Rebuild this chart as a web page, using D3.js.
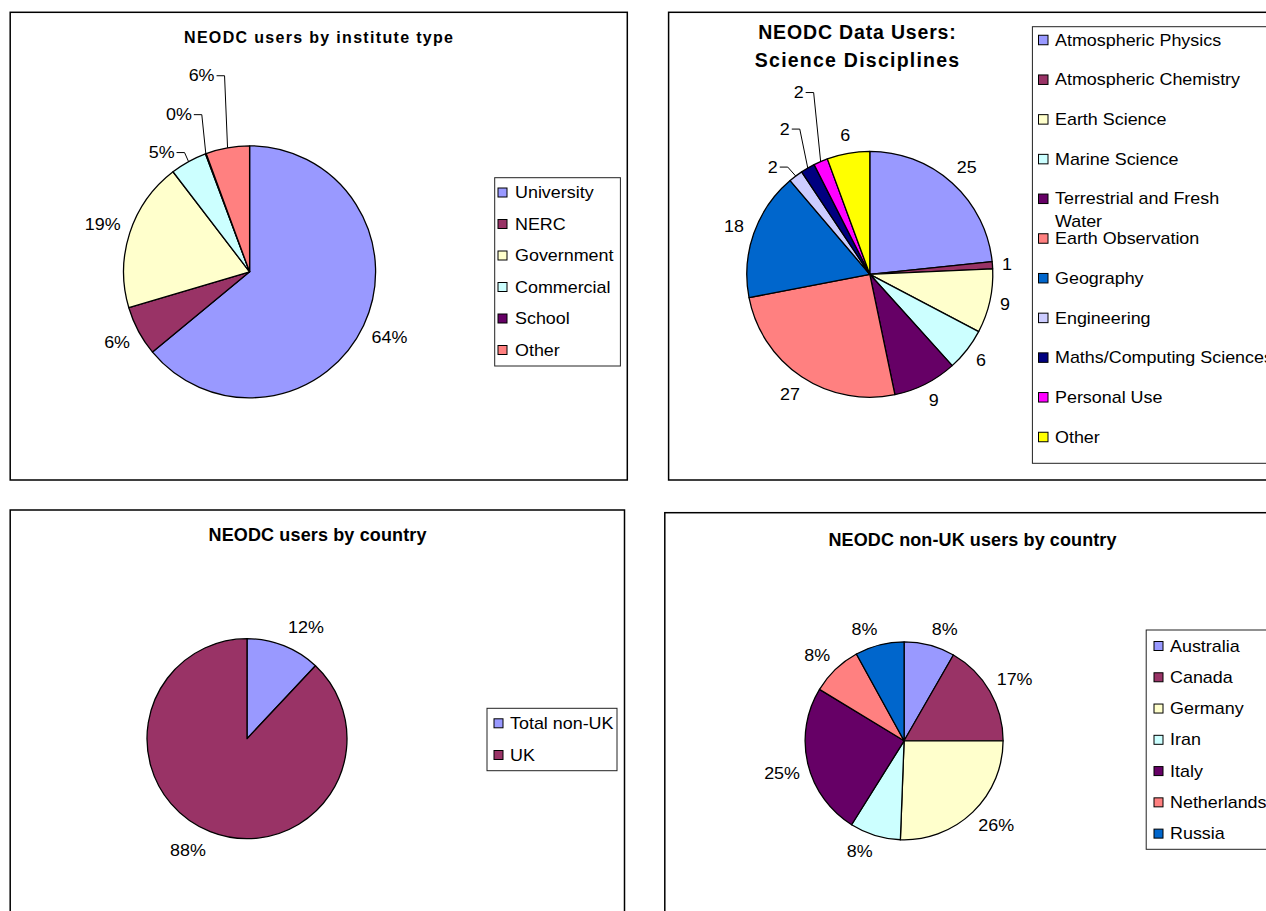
<!DOCTYPE html>
<html>
<head>
<meta charset="utf-8">
<script src="https://cdn.jsdelivr.net/npm/d3@7"></script>
<style>
  body { margin: 0; background: #fff; }
  svg { display: block; }
  text { font-family: "Liberation Sans", Arial, sans-serif; fill: #000; }
</style>
</head>
<body>
<svg id="c" width="1266" height="911"></svg>
<script>
// ---------------- DATA ----------------
const instituteTypes = ["University", "NERC", "Government", "Commercial", "School", "Other"];
const instituteShares = [64.0, 6.4, 19.2, 4.7, 0.1, 5.6];

const disciplines = ["Atmospheric Physics", "Atmospheric Chemistry", "Earth Science", "Marine Science",
  "Terrestrial and Fresh Water", "Earth Observation", "Geography", "Engineering",
  "Maths/Computing Sciences", "Personal Use", "Other"];
const disciplineUsers = [25, 1, 9, 6, 9, 27, 18, 2, 2, 2, 6];

const countryGroups = ["Total non-UK", "UK"];
const countryShares = [12, 88];

const nonUkCountries = ["Australia", "Canada", "Germany", "Iran", "Italy", "Netherlands", "Russia"];
const nonUkShares = [8.3, 16.7, 25.6, 8.3, 24.8, 8.3, 8.0];

// ---------------- STYLE / LAYOUT ----------------
const palette = ["#9999FF", "#993366", "#FFFFCC", "#CCFFFF", "#660066", "#FF8080",
                 "#0066CC", "#CCCCFF", "#000080", "#FF00FF", "#FFFF00"];
const SX = 1.12;           // horizontal stretch of the original's text
const fmtPct = d3.format(".0%");

const panels = [
  { frame: [10.2, 12.3, 617.1, 467.7],
    title: ["NEODC users by institute type"], titleX: 318.5, titleY: [43.3], titleSize: 16, titleLen: [269],
    cats: instituteTypes, vals: instituteShares, colors: palette.slice(0, 6),
    cx: 249.6, cy: 271.8, r: 126, fmt: "pct", mode: "tangent", pad: 9,
    leaders: { 3: [-4, -9], 4: [-4, -39], 5: [-3, -72] },
    legend: { box: [494.7, 177.7, 125.7, 188.3], swX: 498, sw: 9, txX: 515, y0: 192.5, dy: 31.5 } },
  { frame: [668.6, 12.3, 640, 467.7],
    title: ["NEODC Data Users:", "Science Disciplines"], titleX: 857, titleY: [39.3, 66.7], titleSize: 19.5, titleLen: [197.6, 204.4],
    cats: disciplines, vals: disciplineUsers, colors: palette.slice(0, 11),
    cx: 869.8, cy: 274.3, r: 123, fmt: "value", mode: "tangent", pad: 9,
    leaders: { 7: [-8, -9], 8: [-8, -39], 9: [-7, -69] },
    legendLines: { "Terrestrial and Fresh Water": ["Terrestrial and Fresh", "Water"] },
    legend: { box: [1032.4, 26.7, 300, 436.6], swX: 1038.5, sw: 9.5, txX: 1055, y0: 40, dy: 39.7, lineH: 22.4 } },
  { frame: [10.2, 510, 614.3, 450],
    title: ["NEODC users by country"], titleX: 317.5, titleY: [541], titleSize: 18, titleLen: [218],
    cats: countryGroups, vals: countryShares, colors: palette.slice(0, 2),
    cx: 247, cy: 738.7, r: 100, fmt: "pct", mode: "corner", pad: 11.5,
    legend: { box: [487, 708.3, 130, 62.4], swX: 494, sw: 9, txX: 510, y0: 723.3, dy: 31.7 } },
  { frame: [664.8, 512.7, 650, 450],
    title: ["NEODC non-UK users by country"], titleX: 972.5, titleY: [546], titleSize: 18, titleLen: [288],
    cats: nonUkCountries, vals: nonUkShares, colors: palette.slice(0, 7),
    cx: 904.1, cy: 740.8, r: 99, fmt: "pct", mode: "corner", pad: 8,
    legend: { box: [1146.2, 630, 200, 219.3], swX: 1154, sw: 9, txX: 1170, y0: 646, dy: 31.27 } }
];

const svg = d3.select("#c");
svg.append("rect").attr("width", 1266).attr("height", 911).attr("fill", "#fff");

function sText(g, x, y, str, anchor) {
  return g.append("text")
    .attr("transform", `translate(${x},${y}) scale(${SX},1)`)
    .attr("font-size", 16)
    .attr("text-anchor", anchor || "start")
    .attr("dy", "0.35em")
    .text(str);
}

function drawPanel(p) {
  const g = svg.append("g");
  const [fx, fy, fw, fh] = p.frame;
  g.append("rect").attr("x", fx).attr("y", fy).attr("width", fw).attr("height", fh)
    .attr("fill", "#fff").attr("stroke", "#000").attr("stroke-width", 1.5);

  p.title.forEach((line, i) => {
    g.append("text").attr("x", p.titleX).attr("y", p.titleY[i])
      .attr("text-anchor", "middle").attr("font-weight", "bold")
      .attr("font-size", p.titleSize)
      .attr("textLength", p.titleLen[i]).attr("lengthAdjust", "spacing")
      .text(line);
  });

  // pie
  const total = d3.sum(p.vals);
  const arcs = d3.pie().sort(null).value(d => d)(p.vals);
  const arcGen = d3.arc().innerRadius(0).outerRadius(p.r);
  g.append("g").attr("transform", `translate(${p.cx},${p.cy})`)
    .selectAll("path").data(arcs).join("path")
    .attr("d", arcGen)
    .attr("fill", (d, i) => p.colors[i])
    .attr("stroke", "#000").attr("stroke-width", 1.3).attr("stroke-linejoin", "round");

  // data labels
  arcs.forEach((a, i) => {
    const mid = (a.startAngle + a.endAngle) / 2;
    const s = Math.sin(mid), c = -Math.cos(mid);
    const str = p.fmt === "pct" ? fmtPct(a.data / total) : String(a.data);
    const ex = p.cx + p.r * s, ey = p.cy + p.r * c;
    const lead = p.leaders && p.leaders[i];
    if (lead) {
      const bx = ex + lead[0], by = ey + lead[1];
      g.append("path").attr("d", `M${ex},${ey}L${bx},${by}L${bx - 8},${by}`)
        .attr("fill", "none").attr("stroke", "#000").attr("stroke-width", 1);
      sText(g, bx - 10, by, str, "end");
    } else {
      const t = sText(g, 0, 0, str, "middle");
      const w = t.node().getComputedTextLength() * SX, h = 16;
      let x, y;
      if (p.mode === "tangent") {
        const d = p.r + p.pad + Math.abs(s) * w / 2 + Math.abs(c) * h / 2;
        x = p.cx + s * d; y = p.cy + c * d;
      } else {
        const d = p.r + p.pad;
        x = p.cx + s * d + Math.sign(s) * w / 2;
        y = p.cy + c * d + Math.sign(c) * h / 2;
      }
      t.attr("transform", `translate(${x},${y}) scale(${SX},1)`);
    }
  });

  // legend
  const L = p.legend;
  g.append("rect").attr("x", L.box[0]).attr("y", L.box[1]).attr("width", L.box[2]).attr("height", L.box[3])
    .attr("fill", "#fff").attr("stroke", "#222").attr("stroke-width", 1);
  p.cats.forEach((name, i) => {
    const yc = L.y0 + i * L.dy;
    g.append("rect").attr("x", L.swX).attr("y", yc - L.sw / 2).attr("width", L.sw).attr("height", L.sw)
      .attr("fill", p.colors[i]).attr("stroke", "#000").attr("stroke-width", 1);
    const lines = (p.legendLines && p.legendLines[name]) || [name];
    lines.forEach((ln, j) => sText(g, L.txX, yc + j * (L.lineH || 0), ln));
  });
}

panels.forEach(drawPanel);
</script>
</body>
</html>
